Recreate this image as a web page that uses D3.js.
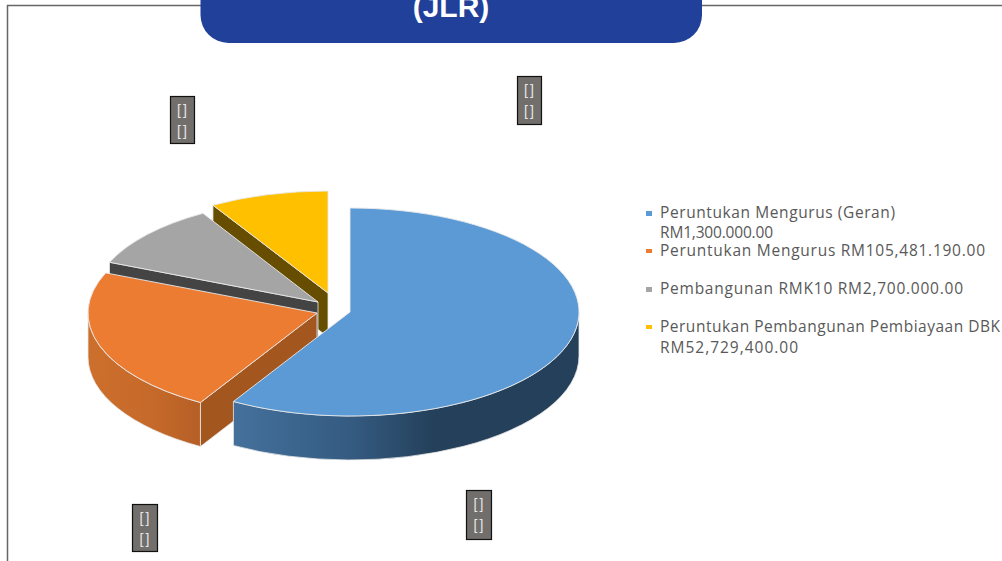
<!DOCTYPE html>
<html><head><meta charset="utf-8">
<script src="https://cdn.jsdelivr.net/npm/d3@7"></script>
<style>html,body{margin:0;padding:0;background:#fff}svg{display:block}</style></head>
<body><svg id="c" width="1002" height="561"></svg>
<script>
const categories = ["Peruntukan Mengurus (Geran)", "Peruntukan Mengurus", "Pembangunan RMK10", "Peruntukan Pembangunan Pembiayaan DBK"];
const shares = [58.5, 22.8, 10.2, 8.5];
const legendLines = [
  ["Peruntukan Mengurus (Geran)", "RM1,300.000.00"],
  ["Peruntukan Mengurus RM105,481.190.00"],
  ["Pembangunan RMK10 RM2,700.000.00"],
  ["Peruntukan Pembangunan Pembiayaan DBK", "RM52,729,400.00"]
];
const dataLabels = ["[]", "[]"];
const titleText = "(JLR)";

const colors = ["#5b9ad5", "#ec7c31", "#a5a5a5", "#ffc000"];
const wallColors = ["#24405a", "#a4561f", "#444444", "#664d00"];
const rimStops = [
  [["0%", "#44719c"], ["35%", "#345a80"], ["58%", "#24405a"], ["100%", "#24405a"]],
  [["0%", "#cd6f2c"], ["60%", "#c5692a"], ["100%", "#b55f26"]]
];
const svg = d3.select("#c");
const defs = svg.append("defs");

// frame and title
const W = 1002, H = 561;
svg.append("path").attr("d", `M7.5 ${H}V5.5H${W}`).attr("fill", "none").attr("stroke", "#666").attr("stroke-width", 1.5);
svg.append("path").attr("d", "M200.5 -10H702V15A28 28 0 0 1 674 43H228.5A28 28 0 0 1 200.5 15Z").attr("fill", "#21409a");
svg.append("text").attr("x", 451).attr("y", 17).attr("text-anchor", "middle")
  .attr("font-family", "Liberation Sans").attr("font-weight", 700).attr("font-size", 30).attr("fill", "#fff").text(titleText);

// pie: each slice has its own exploded centre and, towards the back, slightly smaller radii
const depth = 44;
const centres = [[350, 312], [317, 313], [318, 302], [328, 293]];
const radiiX = [229, 229, 226, 226];
const radiiY = [104, 104, 103, 102];
const arcs = d3.pie().sort(null).value(d => d)(shares);
const edge = "#e9e9e9";
[3, 2, 1, 0].forEach(i => {
  const s = arcs[i], c = centres[i], rx = radiiX[i], ry = radiiY[i], g = svg.append("g");
  const pt = a => [c[0] + rx * Math.sin(a), c[1] - ry * Math.cos(a)];
  const ellArc = (from, to) => `A${rx} ${ry} 0 ${Math.abs(to - from) > Math.PI ? 1 : 0} ${to > from ? 1 : 0} `;
  // radial cut wall at the slice's start edge (the blue one faces away)
  if (i > 0) {
    const p = pt(s.startAngle);
    g.append("path").attr("d", `M${p}L${c}L${c[0]},${c[1] + depth}L${p[0]},${p[1] + depth}Z`)
      .attr("fill", wallColors[i]).attr("stroke", edge).attr("stroke-width", .8);
  }
  // outer rim, only the front half (90deg to 270deg) shows
  const a0 = Math.max(s.startAngle, Math.PI / 2), a1 = Math.min(s.endAngle, 3 * Math.PI / 2);
  if (a1 > a0) {
    const gid = "rim" + i;
    const pa = pt(a0), pb = pt(a1);
    const lg = defs.append("linearGradient").attr("id", gid).attr("gradientUnits", "userSpaceOnUse")
      .attr("x1", Math.min(pa[0], pb[0])).attr("x2", Math.max(pa[0], pb[0])).attr("y1", 0).attr("y2", 0);
    rimStops[i].forEach(d => lg.append("stop").attr("offset", d[0]).attr("stop-color", d[1]));
    g.append("path").attr("d", `M${pa}${ellArc(a0, a1)}${pb}L${pb[0]},${pb[1] + depth}${ellArc(a1, a0)}${pa[0]},${pa[1] + depth}Z`)
      .attr("fill", `url(#${gid})`).attr("stroke", edge).attr("stroke-width", .8);
  }
  // top face
  const p0 = pt(s.startAngle), p1 = pt(s.endAngle);
  g.append("path").attr("d", `M${c}L${p0}${ellArc(s.startAngle, s.endAngle)}${p1}Z`)
    .attr("fill", colors[i]).attr("stroke", edge).attr("stroke-width", .9).attr("stroke-linejoin", "round");
});

// data label boxes
const boxes = [[170, 96, 24, 47], [517, 76, 24, 48], [132, 504, 25, 47], [466, 490, 25, 49]];
boxes.forEach(b => {
  const g = svg.append("g");
  g.append("rect").attr("x", b[0] + .5).attr("y", b[1] + .5).attr("width", b[2]).attr("height", b[3])
    .attr("fill", "#716e6b").attr("stroke", "#111").attr("stroke-width", 1.2);
  dataLabels.forEach((t, j) => g.append("text").attr("x", b[0] + b[2] / 2 + 1).attr("y", b[1] + 19 + j * 21)
    .attr("text-anchor", "middle").attr("font-family", "Liberation Sans").attr("font-size", 14)
    .attr("letter-spacing", 2).attr("fill", "#e6e6e6").text(t));
});

// legend
const markerY = [211, 249, 287, 325], markerH = [5, 4, 5, 4];
const lineY = [[218, 238], [256], [294], [332, 353]];
const lineW = [[235, 113], [325], [303], [340, 138]];
const legend = svg.append("g").attr("font-family", "Open Sans").attr("font-size", 15.5).attr("fill", "#595959");
legendLines.forEach((lines, i) => {
  legend.append("rect").attr("x", 646).attr("y", markerY[i]).attr("width", 6).attr("height", markerH[i]).attr("fill", colors[i]);
  lines.forEach((t, j) => legend.append("text").attr("x", 660).attr("y", lineY[i][j])
    .attr("textLength", lineW[i][j]).attr("lengthAdjust", "spacing").text(t));
});
</script></body></html>
